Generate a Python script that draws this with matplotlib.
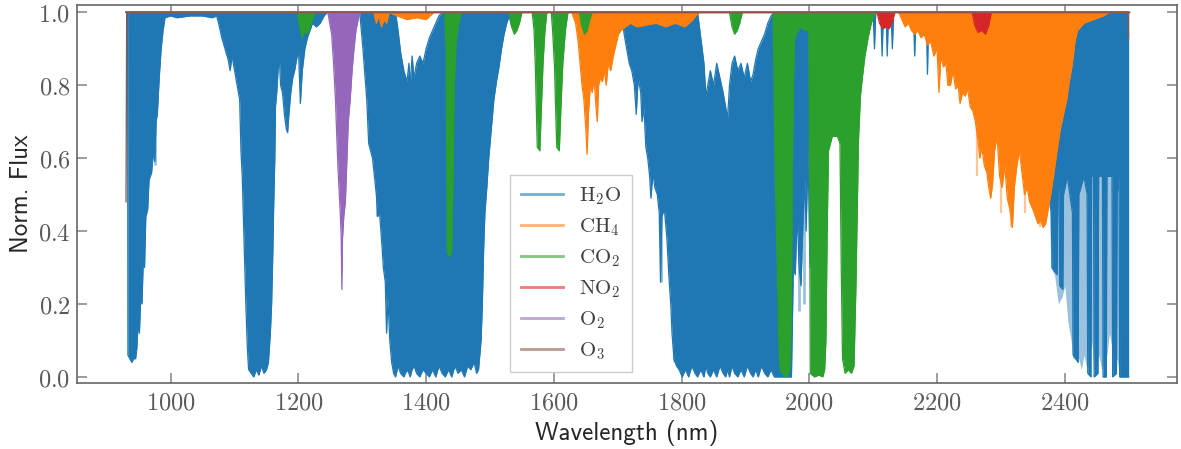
import matplotlib
matplotlib.use("Agg")
import matplotlib.pyplot as plt
from matplotlib.lines import Line2D
from matplotlib.ticker import MultipleLocator, FuncFormatter

plt.rcParams["mathtext.fontset"] = "cm"

# ---------------------------------------------------------------------------
# Telluric transmission, one table per species: (wavelength nm, lower, upper)
# lower/upper are the envelopes of the densely sampled line spectrum.
# ---------------------------------------------------------------------------
species = ["H2O", "CH4", "CO2", "NO2", "O2", "O3"]
labels = [r"$\mathrm{H_2O}$", r"$\mathrm{CH_4}$", r"$\mathrm{CO_2}$",
          r"$\mathrm{NO_2}$", r"$\mathrm{O_2}$", r"$\mathrm{O_3}$"]
colors = ["#1f77b4", "#ff7f0e", "#2ca02c", "#d62728", "#9467bd", "#8c564b"]

h2o_rows = [
    (930, 1.0, 1.0), (932.5, 1.0, 1.0), (933, 0.06, 1.0), (936, 0.05, 1.0),
    (939, 0.04, 1.0), (942, 0.05, 1.0), (945, 0.05, 1.0), (947, 0.08, 1.0),
    (949, 0.15, 1.0), (951, 0.12, 1.0), (953, 0.22, 1.0), (955, 0.20, 1.0),
    (957, 0.32, 1.0), (959, 0.30, 1.0), (961, 0.44, 1.0), (964, 0.46, 1.0),
    (966, 0.54, 1.0), (970, 0.56, 1.0), (973, 0.62, 1.0), (975, 0.59, 1.0),
    (977, 0.70, 1.0), (979, 0.72, 1.0), (982, 0.82, 1.0), (985, 0.90, 1.0),
    (988, 0.95, 1.0), (991, 0.985, 1.0), (1000, 0.99, 1.0), (1010, 0.985, 1.0),
    (1030, 0.99, 1.0), (1050, 0.99, 1.0), (1065, 0.985, 1.0), (1072, 0.99, 1.0),
    # 1.13 um band
    (1075, 0.97, 1.0), (1080, 0.93, 1.0), (1085, 0.90, 1.0), (1090, 0.87, 1.0),
    (1093, 0.84, 1.0), (1096, 0.88, 1.0), (1100, 0.84, 1.0), (1104, 0.80, 1.0),
    (1108, 0.76, 1.0), (1110, 0.62, 1.0), (1112, 0.55, 1.0), (1114, 0.42, 1.0),
    (1116, 0.30, 1.0), (1118, 0.18, 1.0), (1120, 0.08, 1.0), (1122, 0.02, 1.0),
    (1126, 0.01, 1.0), (1130, 0.0, 1.0), (1134, 0.02, 1.0), (1138, 0.005, 1.0),
    (1142, 0.03, 1.0), (1146, 0.01, 1.0), (1150, 0.02, 1.0), (1153, 0.04, 1.0),
    (1156, 0.12, 1.0), (1158, 0.20, 1.0), (1160, 0.35, 1.0), (1161, 0.45, 1.0),
    (1163, 0.60, 1.0), (1164, 0.74, 1.0), (1166, 0.78, 1.0), (1168, 0.84, 1.0),
    (1170, 0.88, 1.0), (1172, 0.80, 1.0), (1175, 0.78, 1.0), (1178, 0.72, 1.0),
    (1181, 0.68, 1.0), (1183, 0.67, 1.0), (1185, 0.72, 1.0), (1188, 0.78, 1.0),
    (1191, 0.82, 1.0), (1194, 0.84, 1.0), (1198, 0.88, 1.0), (1200, 0.90, 1.0),
    (1203, 0.75, 1.0), (1206, 0.84, 1.0), (1210, 0.90, 1.0), (1214, 0.93, 1.0),
    (1218, 0.95, 1.0), (1222, 0.97, 1.0), (1228, 0.96, 1.0), (1234, 0.97, 1.0),
    (1240, 0.99, 1.0), (1245, 1.0, 1.0), (1296, 1.0, 1.0),
    # 1.4 um band
    (1298, 0.96, 1.0), (1301, 0.90, 1.0), (1304, 0.83, 1.0), (1307, 0.76, 1.0),
    (1310, 0.64, 1.0), (1313, 0.62, 1.0), (1316, 0.60, 1.0), (1319, 0.55, 1.0),
    (1322, 0.50, 1.0), (1324, 0.44, 1.0), (1327, 0.45, 1.0), (1330, 0.38, 1.0),
    (1333, 0.30, 1.0), (1336, 0.26, 1.0), (1338, 0.12, 1.0), (1340, 0.22, 1.0),
    (1343, 0.10, 1.0), (1346, 0.04, 1.0), (1349, 0.01, 1.0), (1352, 0.0, 1.0),
    (1356, 0.03, 0.95), (1360, 0.01, 0.89), (1365, 0.0, 0.84), (1370, 0.02, 0.81),
    (1373, 0.01, 0.86), (1375, 0.0, 0.80), (1378, 0.02, 0.88), (1381, 0.03, 0.82),
    (1385, 0.01, 0.86), (1390, 0.0, 0.88), (1395, 0.02, 0.86), (1400, 0.01, 0.90),
    (1405, 0.0, 0.93), (1410, 0.02, 0.95), (1415, 0.0, 0.97), (1420, 0.03, 0.99),
    (1425, 0.01, 1.0), (1430, 0.0, 1.0), (1435, 0.02, 1.0), (1440, 0.0, 1.0),
    (1445, 0.03, 1.0), (1450, 0.01, 1.0), (1455, 0.02, 1.0), (1460, 0.0, 1.0),
    (1465, 0.03, 1.0), (1470, 0.02, 1.0), (1475, 0.04, 1.0), (1479, 0.01, 1.0),
    (1482, 0.02, 1.0), (1486, 0.10, 1.0), (1488, 0.20, 1.0), (1490, 0.35, 1.0),
    (1492, 0.45, 1.0), (1495, 0.52, 1.0), (1498, 0.60, 1.0), (1502, 0.68, 1.0),
    (1506, 0.76, 1.0), (1510, 0.81, 1.0), (1514, 0.85, 1.0), (1518, 0.90, 1.0),
    (1522, 0.94, 1.0), (1526, 0.97, 1.0), (1530, 0.99, 1.0), (1534, 0.96, 1.0),
    (1540, 1.0, 1.0), (1706, 1.0, 1.0),
    # 1.9 um band
    (1710, 0.94, 1.0), (1714, 0.90, 1.0), (1718, 0.86, 1.0), (1722, 0.84, 1.0),
    (1726, 0.80, 1.0), (1729, 0.72, 1.0), (1732, 0.82, 1.0), (1736, 0.78, 1.0),
    (1738, 0.70, 1.0), (1741, 0.74, 1.0), (1744, 0.63, 1.0), (1747, 0.60, 1.0),
    (1750, 0.55, 1.0), (1752, 0.49, 1.0), (1755, 0.56, 1.0), (1758, 0.52, 1.0),
    (1762, 0.50, 1.0), (1765, 0.45, 1.0), (1767, 0.26, 1.0), (1769, 0.44, 1.0),
    (1773, 0.46, 1.0), (1777, 0.38, 1.0), (1780, 0.28, 1.0), (1783, 0.20, 1.0),
    (1785, 0.12, 1.0), (1788, 0.05, 1.0), (1792, 0.03, 1.0), (1796, 0.02, 1.0),
    (1801, 0.0, 1.0), (1806, 0.02, 1.0), (1811, 0.0, 1.0), (1816, 0.03, 1.0),
    (1821, 0.01, 1.0), (1825, 0.0, 1.0), (1830, 0.02, 0.93), (1835, 0.0, 0.86),
    (1838, 0.03, 0.77), (1841, 0.01, 0.80), (1845, 0.0, 0.84), (1850, 0.02, 0.80),
    (1855, 0.0, 0.86), (1860, 0.03, 0.82), (1865, 0.01, 0.78), (1869, 0.0, 0.74),
    (1872, 0.02, 0.71), (1875, 0.0, 0.80), (1879, 0.03, 0.86), (1883, 0.01, 0.88),
    (1888, 0.0, 0.84), (1893, 0.02, 0.86), (1898, 0.0, 0.82), (1903, 0.03, 0.86),
    (1908, 0.01, 0.81), (1912, 0.0, 0.83), (1916, 0.02, 0.87), (1920, 0.0, 0.90),
    (1925, 0.03, 0.92), (1930, 0.01, 0.94), (1935, 0.0, 0.97), (1940, 0.02, 0.99),
    (1945, 0.0, 1.0), (1972, 0.0, 1.0), (1975, 0.30, 1.0), (1978, 0.28, 1.0),
    (1981, 0.45, 1.0), (1984, 0.30, 1.0), (1987, 0.25, 1.0), (1990, 0.42, 1.0),
    (1993, 0.55, 1.0), (1995, 0.40, 1.0), (1998, 0.62, 1.0), (2001, 0.30, 1.0),
    (2005, 0.50, 1.0), (2030, 0.80, 1.0), (2040, 0.90, 1.0), (2050, 0.90, 1.0),
    (2080, 0.95, 1.0), (2090, 1.0, 1.0), (2100, 1.0, 1.0), (2102, 0.90, 1.0),
    (2104, 1.0, 1.0), (2112, 1.0, 1.0), (2114, 0.88, 1.0), (2116, 1.0, 1.0),
    (2120, 1.0, 1.0), (2122, 0.88, 1.0), (2124, 1.0, 1.0), (2128, 1.0, 1.0),
    (2130, 0.90, 1.0), (2132, 1.0, 1.0), (2163, 1.0, 1.0), (2165, 0.88, 1.0),
    (2167, 1.0, 1.0), (2183, 1.0, 1.0), (2185, 0.83, 1.0), (2187, 1.0, 1.0),
    (2374, 1.0, 1.0),
    # 2.5 um band edge: saturated line clusters
    (2376, 0.48, 1.0), (2379, 0.45, 1.0), (2380, 0.30, 1.0), (2388, 0.28, 1.0),
    (2389, 0.50, 1.0), (2391, 0.52, 1.0), (2392, 0.25, 1.0), (2397, 0.24, 1.0),
    (2398, 0.50, 1.0), (2404, 0.55, 1.0), (2408, 0.50, 1.0), (2412, 0.45, 1.0),
    (2413, 0.06, 1.0), (2421, 0.04, 1.0), (2422, 0.50, 1.0), (2430, 0.55, 1.0),
    (2435, 0.50, 1.0), (2436, 0.01, 1.0), (2441, 0.0, 1.0), (2442, 0.55, 1.0),
    (2445, 0.55, 1.0), (2446, 0.0, 1.0), (2452, 0.01, 1.0), (2453, 0.55, 1.0),
    (2459, 0.55, 1.0), (2460, 0.0, 1.0), (2465, 0.0, 1.0), (2466, 0.55, 1.0),
    (2474, 0.55, 1.0), (2475, 0.0, 1.0), (2481, 0.01, 1.0), (2482, 0.50, 1.0),
    (2485, 0.55, 1.0), (2486, 0.0, 1.0), (2500, 0.0, 1.0),
]

# weaker, partially resolved H2O lines between the saturated clusters
h2o_pale_rows = [
    (2376, 0.48), (2378, 0.30), (2384, 0.28), (2390, 0.20), (2396, 0.22),
    (2400, 0.25), (2405, 0.15), (2410, 0.10), (2413, 0.05), (2422, 0.05),
    (2426, 0.02), (2430, 0.06), (2435, 0.02), (2439, 0.05), (2442, 0.10),
    (2446, 0.02), (2450, 0.03), (2453, 0.06), (2458, 0.02), (2462, 0.04),
    (2466, 0.06), (2470, 0.12), (2474, 0.08), (2478, 0.03), (2482, 0.05),
    (2486, 0.0), (2500, 0.0),
]

# isolated weak H2O lines (wavelength, minimum flux)
h2o_faint_wl = [975, 1323, 1767, 1788, 1984, 1992]
h2o_faint_lo = [0.58, 0.44, 0.26, 0.04, 0.18, 0.20]

ch4_rows = [
    (930, 1.0), (1318, 1.0), (1322, 0.97), (1326, 0.99), (1330, 0.96),
    (1334, 0.98), (1338, 0.97), (1342, 1.0), (1355, 0.99), (1370, 0.98),
    (1385, 0.985), (1400, 0.98), (1412, 1.0), (1628, 1.0), (1634, 0.97),
    (1638, 0.92), (1641, 0.86), (1644, 0.80), (1647, 0.76), (1650, 0.68),
    (1652, 0.61), (1654, 0.72), (1657, 0.80), (1660, 0.78), (1663, 0.82),
    (1666, 0.74), (1668, 0.70), (1670, 0.80), (1673, 0.82), (1676, 0.81),
    (1679, 0.84), (1682, 0.80), (1685, 0.86), (1689, 0.84), (1693, 0.88),
    (1697, 0.91), (1701, 0.94), (1705, 0.95), (1712, 0.96), (1720, 0.97),
    (1730, 0.96), (1745, 0.965), (1760, 0.97), (1775, 0.96), (1790, 0.97),
    (1805, 0.96), (1815, 0.975), (1822, 0.99), (1828, 1.0), (2140, 1.0),
    (2145, 0.98), (2150, 0.96), (2155, 0.97), (2160, 0.95), (2165, 0.94),
    (2170, 0.95), (2175, 0.93), (2180, 0.94), (2185, 0.91), (2190, 0.92),
    (2195, 0.88), (2200, 0.90), (2203, 0.78), (2206, 0.88), (2210, 0.85),
    (2214, 0.86), (2217, 0.80), (2221, 0.80), (2225, 0.84), (2229, 0.79),
    (2233, 0.80), (2236, 0.75), (2240, 0.78), (2244, 0.77), (2248, 0.79),
    (2252, 0.74), (2256, 0.73), (2260, 0.70), (2264, 0.65), (2267, 0.60),
    (2270, 0.63), (2274, 0.58), (2278, 0.56), (2281, 0.52), (2284, 0.49),
    (2287, 0.53), (2290, 0.62), (2294, 0.66), (2298, 0.55), (2302, 0.52),
    (2306, 0.58), (2310, 0.49), (2314, 0.46), (2318, 0.41), (2321, 0.52),
    (2325, 0.58), (2329, 0.62), (2333, 0.56), (2337, 0.50), (2341, 0.52),
    (2345, 0.48), (2350, 0.46), (2354, 0.44), (2358, 0.42), (2362, 0.43),
    (2366, 0.41), (2370, 0.42), (2374, 0.46), (2378, 0.50), (2383, 0.56),
    (2388, 0.62), (2393, 0.68), (2398, 0.72), (2403, 0.76), (2408, 0.82),
    (2412, 0.86), (2416, 0.92), (2420, 0.95), (2430, 0.97), (2445, 0.98),
    (2460, 0.99), (2470, 1.0), (2500, 1.0),
]

# weaker CH4 lines reaching below the main envelope
ch4_faint_wl = [2262, 2300, 2316, 2338, 2362]
ch4_faint_lo = [0.55, 0.45, 0.41, 0.45, 0.41]

co2_rows = [
    (930, 1.0), (1198, 1.0), (1202, 0.96), (1206, 0.93), (1210, 0.95),
    (1214, 0.94), (1218, 0.96), (1222, 0.98), (1226, 1.0), (1429, 1.0),
    (1431, 0.90), (1432, 0.60), (1433, 0.34), (1437, 0.33), (1440, 0.35),
    (1442, 0.55), (1444, 0.80), (1447, 0.92), (1451, 0.97), (1455, 1.0),
    (1530, 1.0), (1534, 0.96), (1538, 0.94), (1542, 0.95), (1546, 0.97),
    (1550, 1.0), (1566, 1.0), (1569, 0.95), (1571, 0.85), (1573, 0.70),
    (1574, 0.63), (1578, 0.62), (1580, 0.72), (1583, 0.86), (1586, 0.95),
    (1589, 1.0), (1596, 1.0), (1598, 0.95), (1601, 0.85), (1603, 0.72),
    (1604.5, 0.63), (1608.5, 0.62), (1611, 0.74), (1614, 0.86), (1618, 0.95),
    (1622, 1.0), (1640, 1.0), (1644, 0.96), (1648, 0.94), (1652, 0.95),
    (1656, 0.98), (1660, 1.0), (1875, 1.0), (1879, 0.96), (1883, 0.94),
    (1887, 0.95), (1891, 0.97), (1895, 1.0), (1943, 1.0), (1944, 0.90),
    (1946, 0.60), (1949, 0.35), (1952, 0.10), (1954, 0.02), (1962, 0.0),
    (1968, 0.01), (1970, 0.04), (1972, 0.20), (1973, 0.50), (1975, 0.80),
    (1977, 0.93), (1985, 0.96), (1993, 0.95), (1999, 0.95), (2000.5, 0.50),
    (2001.5, 0.01), (2008, 0.0), (2015, 0.005), (2021, 0.0), (2024, 0.02),
    (2026, 0.10), (2028, 0.40), (2030, 0.62), (2036, 0.66), (2044, 0.66),
    (2048, 0.64), (2050, 0.30), (2052, 0.05), (2056, 0.01), (2061, 0.02),
    (2066, 0.01), (2070, 0.03), (2073, 0.25), (2075, 0.45), (2077, 0.65),
    (2080, 0.77), (2083, 0.82), (2087, 0.88), (2092, 0.93), (2097, 0.97),
    (2103, 1.0), (2500, 1.0),
]

no2_rows = [
    (930, 1.0), (2106, 1.0), (2110, 0.97), (2115, 0.955), (2120, 0.96),
    (2125, 0.955), (2130, 0.975), (2134, 1.0), (2255, 1.0), (2259, 0.965),
    (2264, 0.945), (2270, 0.95), (2276, 0.94), (2281, 0.965), (2285, 1.0),
    (2500, 1.0),
]

o2_rows = [
    (930, 1.0), (1246, 1.0), (1249, 0.97), (1252, 0.94), (1255, 0.86),
    (1258, 0.76), (1260, 0.66), (1262, 0.57), (1264, 0.50), (1265.5, 0.45),
    (1267, 0.38), (1268, 0.24), (1269, 0.38), (1271, 0.44), (1273.5, 0.48),
    (1276, 0.60), (1278, 0.70), (1281, 0.76), (1284, 0.84), (1287, 0.90),
    (1290, 0.95), (1294, 0.985), (1297, 1.0), (2500, 1.0),
]

o3_rows = [(930, 0.48), (931, 1.0), (2499, 1.0), (2500, 0.93)]


def unpack(rows):
    cols = list(zip(*rows))
    wl, lo = list(cols[0]), list(cols[1])
    hi = list(cols[2]) if len(cols) > 2 else [1.0] * len(wl)
    return wl, lo, hi


tables = [h2o_rows, ch4_rows, co2_rows, no2_rows, o2_rows, o3_rows]

fig = plt.figure(figsize=(11.81, 4.49), dpi=100)
ax = fig.add_axes([0.0656, 0.1459, 0.9306, 0.843])

# weaker lines underneath the main envelopes
pw, plo, phi = unpack(h2o_pale_rows)
ax.fill_between(pw, plo, phi, color=colors[0], alpha=0.45, lw=0, zorder=1.5)
ax.vlines(h2o_faint_wl, h2o_faint_lo, 1.0, color=colors[0], alpha=0.45,
          lw=2.0, zorder=1.5)
ax.vlines(ch4_faint_wl, ch4_faint_lo, 1.0, color=colors[1], alpha=0.45,
          lw=1.6, zorder=2.5)

for k, (rows, col) in enumerate(zip(tables, colors)):
    wl, lo, hi = unpack(rows)
    z = 2 + k
    ax.fill_between(wl, lo, hi, color=col, lw=0, zorder=z)
    ax.plot(wl, lo, color=col, lw=0.9, zorder=z)
    ax.plot(wl, hi, color=col, lw=0.9, zorder=z)

ax.set_xlim(854, 2575)
ax.set_ylim(-0.018, 1.020)
ax.xaxis.set_major_locator(MultipleLocator(200))
ax.yaxis.set_major_locator(MultipleLocator(0.2))
ax.xaxis.set_major_formatter(FuncFormatter(lambda v, p: f"${v:.0f}$"))
ax.yaxis.set_major_formatter(FuncFormatter(lambda v, p: f"${v:.1f}$"))
ax.tick_params(direction="in", length=7, width=1.2, color="0.55",
               top=True, right=True, labelsize=17.5, labelcolor="0.35",
               pad=5)
for sp in ax.spines.values():
    sp.set_color("0.4")
    sp.set_linewidth(1.2)

ax.set_xlabel("Wavelength (nm)", family="cmss10", fontsize=18, color="0.15",
              labelpad=4)
ax.set_ylabel("Norm. Flux", family="cmss10", fontsize=18, color="0.15",
              labelpad=4)

handles = [Line2D([], [], color=c, lw=2, alpha=0.6) for c in colors]
leg = ax.legend(handles, labels, loc="lower left",
                bbox_to_anchor=(0.394, 0.030), borderaxespad=0,
                fontsize=15, fancybox=False, edgecolor="0.8", framealpha=1,
                handlelength=2.0, handletextpad=0.8, labelspacing=0.45,
                borderpad=0.5)
for t in leg.get_texts():
    t.set_color("0.25")
leg.set_zorder(20)

fig.savefig("out.png", dpi=100)
